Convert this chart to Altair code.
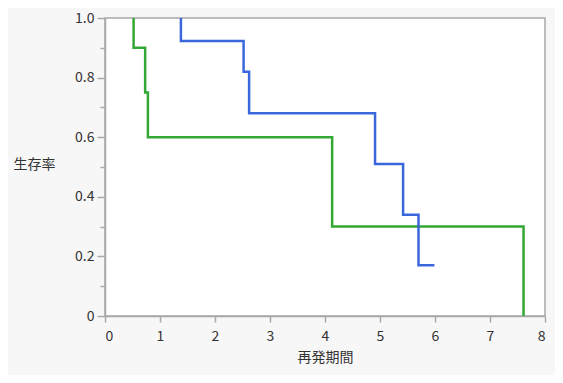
import altair as alt
import pandas as pd

# Kaplan-Meier step data (time, survival)
green_time = [0.52, 0.52, 0.73, 0.78, 4.13, 7.61]
green_surv = [1.0, 0.90, 0.75, 0.60, 0.30, 0.0]
blue_time = [1.38, 1.38, 2.52, 2.62, 4.91, 5.42, 5.70, 5.99]
blue_surv = [1.0, 0.923, 0.82, 0.68, 0.51, 0.34, 0.17, 0.17]

x_ticks = [0, 1, 2, 3, 4, 5, 6, 7, 8]
y_ticks = [0, 0.1, 0.2, 0.3, 0.4, 0.5, 0.6, 0.7, 0.8, 0.9, 1.0]

rows = []
for i, (t, s) in enumerate(zip(green_time, green_surv)):
    rows.append({"群": "A", "再発期間": t, "生存率": s, "idx": i})
for i, (t, s) in enumerate(zip(blue_time, blue_surv)):
    rows.append({"群": "B", "再発期間": t, "生存率": s, "idx": i})
df = pd.DataFrame(rows)

FONT = "Noto Sans CJK JP"
GRAY = "#a8a8a8"

chart = (
    alt.Chart(df)
    .mark_line(interpolate="step-after", strokeWidth=2.5)
    .encode(
        x=alt.X(
            "再発期間:Q",
            scale=alt.Scale(domain=[0, 8], nice=False, zero=False),
            axis=alt.Axis(
                values=x_ticks,
                format="d",
                title="再発期間",
                grid=False,
                tickSize=6,
                labelPadding=7,
                titlePadding=7,
            ),
        ),
        y=alt.Y(
            "生存率:Q",
            scale=alt.Scale(domain=[0, 1], nice=False),
            axis=alt.Axis(
                values=y_ticks,
                labelExpr="round(datum.value*10) % 2 == 0 ? (datum.value == 0 ? '0' : format(datum.value, '.1f')) : ''",
                title="生存率",
                titleAngle=0,
                titleAlign="left",
                titleBaseline="middle",
                titleX=-92,
                titleY=146,
                grid=False,
                tickSize={"condition": {"test": "round(datum.value*10) % 2 == 0", "value": 8}, "value": 5},
                labelPadding=3,
            ),
        ),
        color=alt.Color(
            "群:N",
            scale=alt.Scale(domain=["A", "B"], range=["#34a834", "#3a68dc"]),
            legend=None,
        ),
        order="idx:Q",
        detail="群:N",
    )
    .properties(
        width=440,
        height=298,
        background="#f7f7f7",
        padding={"left": 97, "top": 10, "right": 10, "bottom": 59},
        autosize=alt.AutoSizeParams(type="none"),
    )
    .configure_view(stroke=GRAY, strokeWidth=1.5, fill="white")
    .configure_axis(
        domainColor=GRAY,
        tickColor=GRAY,
        domainWidth=1.5,
        tickWidth=1.5,
        labelFont=FONT,
        titleFont=FONT,
        labelFontSize=14,
        titleFontSize=14,
        titleFontWeight="normal",
        labelColor="#333333",
        titleColor="#333333",
    )
)

chart.save("out.html", embed_options={"renderer": "svg", "actions": False})
